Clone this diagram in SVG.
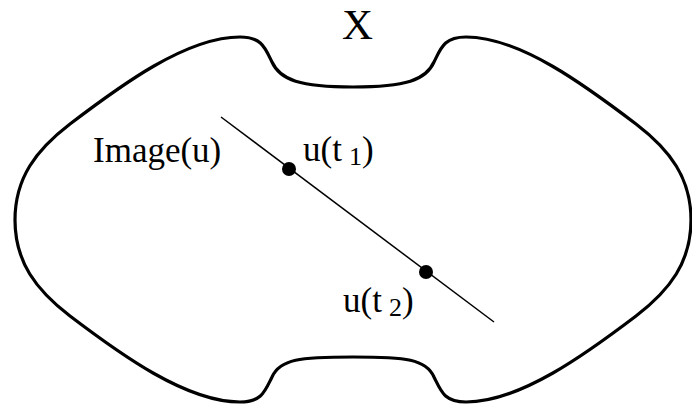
<svg xmlns="http://www.w3.org/2000/svg" width="692" height="407" viewBox="0 0 692 407">
<style>
.outline{fill:none;stroke:#000;stroke-width:3.2;stroke-linejoin:round}
.edge{fill:none;stroke:#000;stroke-width:1.5}
.dot{fill:#000}
text{font-family:"Liberation Serif","Times New Roman",serif;fill:#000}
.lbl{font-size:35px}
.sub{font-size:26px}
</style>
<rect width="692" height="407" fill="#fff"/>
<g id="space-X">
<path class="outline" d="M240,37 C262,37 265,48 272,62 C280,80 300,87 353,87 C406,87 426,80 434,62 C441,48 444,37 466,37 C520,37 586,86 636,124 C670,150 691,178 691,220 C691,262 670,290 636,316 C586,354 520,402 466,402 C444,402 441,391 434,377 C426,359 406,357 353,357 C300,357 280,359 272,377 C265,391 262,402 240,402 C186,402 120,354 70,316 C36,290 15,262 15,220 C15,178 36,150 70,124 C120,86 186,37 240,37 Z"/>
<text x="357.5" y="39" font-size="43" text-anchor="middle">X</text>
</g>
<g id="connectors">
<line class="edge" x1="221" y1="117" x2="494" y2="322"/>
</g>
<g id="image-label">
<text class="lbl" x="93" y="162">Image(u)</text>
</g>
<g id="point-t1">
<circle class="dot" cx="289" cy="169" r="7"/>
<text class="lbl" x="303" y="161">u(t<tspan class="sub" dx="7" dy="4">1</tspan><tspan dy="-4">)</tspan></text>
</g>
<g id="point-t2">
<circle class="dot" cx="426" cy="272" r="7"/>
<text class="lbl" x="343" y="312">u(t<tspan class="sub" dx="7" dy="4">2</tspan><tspan dy="-4">)</tspan></text>
</g>
</svg>
